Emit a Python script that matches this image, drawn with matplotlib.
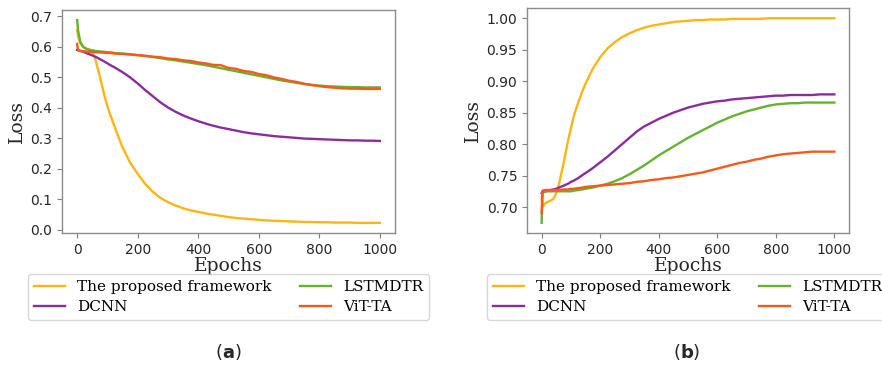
import matplotlib
matplotlib.use("Agg")
import matplotlib.pyplot as plt

epochs = [0, 3, 10, 20, 30, 40, 50, 60, 75, 90, 100, 110, 125, 140, 150, 175, 200, 225,
          250, 275, 300, 325, 350, 375, 400, 425, 450, 475, 500, 525, 550, 575, 600, 625,
          650, 675, 700, 725, 750, 775, 800, 825, 850, 875, 900, 925, 950, 975, 1000]

labels = ["The proposed framework", "DCNN", "LSTMDTR", "ViT-TA"]

# Panel (a)
a_proposed = [0.655, 0.635, 0.612, 0.600, 0.594, 0.590, 0.583, 0.560, 0.503, 0.440, 0.405,
              0.375, 0.335, 0.295, 0.270, 0.220, 0.183, 0.150, 0.124, 0.104, 0.090, 0.079,
              0.070, 0.063, 0.058, 0.053, 0.049, 0.045, 0.041, 0.038, 0.036, 0.034, 0.032,
              0.030, 0.029, 0.028, 0.027, 0.026, 0.025, 0.025, 0.024, 0.024, 0.023, 0.023,
              0.023, 0.022, 0.022, 0.022, 0.022]
a_dcnn = [0.590, 0.589, 0.587, 0.584, 0.580, 0.576, 0.572, 0.568, 0.560, 0.552, 0.546,
          0.540, 0.532, 0.523, 0.517, 0.500, 0.480, 0.458, 0.438, 0.418, 0.401, 0.387,
          0.375, 0.365, 0.356, 0.348, 0.341, 0.335, 0.330, 0.325, 0.320, 0.316, 0.313,
          0.310, 0.307, 0.305, 0.303, 0.301, 0.299, 0.298, 0.297, 0.296, 0.295, 0.294,
          0.293, 0.293, 0.292, 0.292, 0.291]
a_lstmdtr = [0.688, 0.655, 0.618, 0.600, 0.594, 0.591, 0.589, 0.587, 0.585, 0.584, 0.583,
             0.582, 0.580, 0.579, 0.578, 0.576, 0.573, 0.570, 0.567, 0.563, 0.559, 0.556,
             0.552, 0.548, 0.544, 0.540, 0.535, 0.530, 0.525, 0.520, 0.515, 0.510, 0.505,
             0.500, 0.495, 0.490, 0.486, 0.482, 0.478, 0.475, 0.473, 0.471, 0.470, 0.469,
             0.468, 0.468, 0.467, 0.467, 0.467]
a_vitta = [0.610, 0.590, 0.587, 0.586, 0.585, 0.584, 0.583, 0.583, 0.582, 0.581, 0.580,
           0.580, 0.578, 0.577, 0.577, 0.575, 0.573, 0.571, 0.568, 0.566, 0.562, 0.560,
           0.556, 0.554, 0.549, 0.546, 0.541, 0.540, 0.531, 0.528, 0.521, 0.518, 0.511,
           0.507, 0.500, 0.495, 0.489, 0.485, 0.479, 0.475, 0.471, 0.468, 0.466, 0.464,
           0.463, 0.463, 0.462, 0.462, 0.462]

# Panel (b)
b_proposed = [0.715, 0.700, 0.705, 0.708, 0.710, 0.713, 0.722, 0.738, 0.770, 0.805, 0.825,
              0.845, 0.866, 0.885, 0.896, 0.920, 0.938, 0.952, 0.962, 0.970, 0.976, 0.981,
              0.985, 0.988, 0.990, 0.992, 0.994, 0.995, 0.996, 0.997, 0.997, 0.998, 0.998,
              0.998, 0.999, 0.999, 0.999, 0.999, 0.999, 1.000, 1.000, 1.000, 1.000, 1.000,
              1.000, 1.000, 1.000, 1.000, 1.000]
b_dcnn = [0.722, 0.724, 0.725, 0.726, 0.727, 0.728, 0.729, 0.731, 0.734, 0.737, 0.740,
          0.742, 0.746, 0.751, 0.754, 0.762, 0.771, 0.780, 0.790, 0.800, 0.810, 0.820,
          0.828, 0.834, 0.840, 0.845, 0.850, 0.854, 0.858, 0.861, 0.864, 0.866, 0.868,
          0.869, 0.871, 0.872, 0.873, 0.874, 0.875, 0.876, 0.877, 0.877, 0.878, 0.878,
          0.878, 0.878, 0.879, 0.879, 0.879]
b_lstmdtr = [0.675, 0.722, 0.724, 0.725, 0.725, 0.725, 0.725, 0.725, 0.725, 0.725, 0.725,
             0.726, 0.727, 0.728, 0.729, 0.731, 0.734, 0.737, 0.741, 0.746, 0.752, 0.759,
             0.766, 0.774, 0.782, 0.789, 0.796, 0.803, 0.810, 0.816, 0.822, 0.828, 0.834,
             0.839, 0.844, 0.848, 0.852, 0.855, 0.858, 0.861, 0.863, 0.864, 0.865, 0.865,
             0.866, 0.866, 0.866, 0.866, 0.866]
b_vitta = [0.690, 0.726, 0.727, 0.727, 0.727, 0.727, 0.727, 0.727, 0.728, 0.728, 0.729,
           0.729, 0.730, 0.731, 0.732, 0.733, 0.734, 0.735, 0.736, 0.737, 0.738, 0.740,
           0.741, 0.743, 0.744, 0.746, 0.747, 0.749, 0.751, 0.753, 0.755, 0.758, 0.761,
           0.764, 0.767, 0.770, 0.772, 0.775, 0.777, 0.780, 0.782, 0.784, 0.785, 0.786,
           0.787, 0.788, 0.788, 0.788, 0.788]

xticks = [0, 200, 400, 600, 800, 1000]
a_yticks = [0.0, 0.1, 0.2, 0.3, 0.4, 0.5, 0.6, 0.7]
b_yticks = [0.70, 0.75, 0.80, 0.85, 0.90, 0.95, 1.00]

colors = ["#FDB515", "#8B2C9E", "#63B330", "#F65A1A"]

W, H = 882, 367
fig = plt.figure(figsize=(W / 100, H / 100), dpi=100)

axA = fig.add_axes([62 / W, 1 - 233 / H, (395 - 62) / W, (233 - 10) / H])
axB = fig.add_axes([527 / W, 1 - 233 / H, (849 - 527) / W, (233 - 8) / H])

panels = [
    (axA, [a_proposed, a_dcnn, a_lstmdtr, a_vitta], a_yticks, "%.1f", 28, "a", 228),
    (axB, [b_proposed, b_dcnn, b_lstmdtr, b_vitta], b_yticks, "%.2f", 487, "b", 687),
]

for ax, series, yt, fmt, legx, cap, capx in panels:
    for s, c, lab in zip(series, colors, labels):
        ax.plot(epochs, s, color=c, lw=1.7, label=lab)
    ax.set_xticks(xticks)
    ax.set_yticks(yt)
    ax.set_yticklabels([fmt % v for v in yt])
    ax.tick_params(labelsize=10, colors="#7f7f7f", labelcolor="#262626", length=3.5)
    for sp in ax.spines.values():
        sp.set_color("#8c8c8c")
        sp.set_linewidth(1.0)
    ax.set_xlabel("Epochs", family="DejaVu Serif", fontsize=13.5, labelpad=0, color="#262626")
    ax.set_ylabel("Loss", family="DejaVu Serif", fontsize=13.5, labelpad=3, color="#262626")
    ax.legend(loc="upper left", bbox_to_anchor=(legx / W, 1 - 274 / H),
              bbox_transform=fig.transFigure, borderaxespad=0, ncol=2,
              prop={"family": "DejaVu Serif", "size": 11}, handlelength=2.0,
              columnspacing=1.9, labelspacing=0.4, frameon=True)
    fig.text(capx / W, 1 - 352 / H, r"($\mathbf{%s}$)" % cap, ha="center", va="center",
             fontsize=13, color="#262626")

fig.savefig("out.png", dpi=100)
